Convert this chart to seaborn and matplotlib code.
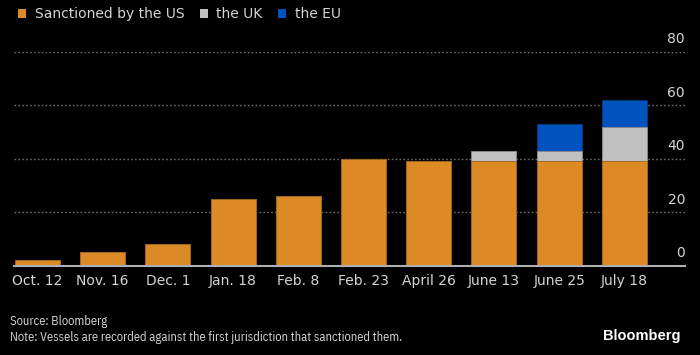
import matplotlib
matplotlib.use("Agg")
import matplotlib.pyplot as plt
import seaborn as sns
import pandas as pd
from matplotlib.patches import Patch

dates = ["Oct. 12", "Nov. 16", "Dec. 1", "Jan. 18", "Feb. 8", "Feb. 23",
         "April 26", "June 13", "June 25", "July 18"]
us = [2, 5, 8, 25, 26, 40, 39, 39, 39, 39]
uk = [0, 0, 0, 0, 0, 0, 0, 4, 4, 13]
eu = [0, 0, 0, 0, 0, 0, 0, 0, 10, 10]
yticks = [0, 20, 40, 60, 80]
series_names = ["Sanctioned by the US", "the UK", "the EU"]

C_US = "#DB8A25"
C_UK = "#C0C0C0"
C_EU = "#0053BD"
BG = "#000000"
TXT = "#D4D4D4"

df = pd.DataFrame({"date": dates, "us": us, "uk": uk, "eu": eu})
df["us_uk"] = df["us"] + df["uk"]
df["total"] = df["us_uk"] + df["eu"]

sns.set_theme(style="dark")
plt.rcParams["font.family"] = ["DejaVu Sans"]

fig = plt.figure(figsize=(7, 3.55), dpi=100, facecolor=BG)
ax = fig.add_axes([0.02, 0.2521, 0.9586, 0.6014])
ax.set_facecolor(BG)

# gridlines (behind bars)
for v in yticks[1:]:
    ax.axhline(v, color="#6E6E6E", lw=1.0, ls=(0, (1.2, 1.6)), zorder=0)

w = 0.69
sns.barplot(data=df, x="date", y="total", order=dates, color=C_EU, saturation=1,
            width=w, edgecolor="#003A85", linewidth=0.6, ax=ax, zorder=2)
sns.barplot(data=df, x="date", y="us_uk", order=dates, color=C_UK, saturation=1,
            width=w, edgecolor="#8A8A8A", linewidth=0.6, ax=ax, zorder=3)
sns.barplot(data=df, x="date", y="us", order=dates, color=C_US, saturation=1,
            width=w, edgecolor="#9A5E15", linewidth=0.6, ax=ax, zorder=4)

ax.set_xlim(-0.36, 9.93)
ax.set_ylim(0, 80)
ax.set_xlabel("")
ax.set_ylabel("")
ax.set_yticks([])
ax.grid(False)
for s in ["top", "right", "left"]:
    ax.spines[s].set_visible(False)
ax.spines["bottom"].set_color("#AFAFAF")
ax.spines["bottom"].set_linewidth(1.5)
ax.spines["bottom"].set_zorder(5)
ax.tick_params(axis="x", length=0, pad=6, colors=TXT, labelsize=10)

# y tick labels on the right, above gridlines
for v in yticks:
    ax.annotate(str(v), xy=(1.0, v), xycoords=("axes fraction", "data"),
                xytext=(0, 4), textcoords="offset points",
                ha="right", va="bottom", color=TXT, fontsize=10)

# legend
handles = [Patch(facecolor=c, edgecolor="none") for c in (C_US, C_UK, C_EU)]
fig.legend(handles, series_names, loc="upper left", bbox_to_anchor=(0.008, 1.015),
           ncol=3, frameon=False, fontsize=10, handlelength=0.6, handleheight=0.6,
           handletextpad=0.6, columnspacing=1.1, labelcolor=TXT)

# footer
foot_font = ["IBM Plex Sans Condensed", "DejaVu Sans"]
fig.text(0.014, 1 - 321 / 355, "Source: Bloomberg", color=TXT, fontsize=9,
         va="center", ha="left", family=foot_font)
fig.text(0.014, 1 - 337 / 355,
         "Note: Vessels are recorded against the first jurisdiction that sanctioned them.",
         color=TXT, fontsize=9, va="center", ha="left", family=foot_font)
fig.text(0.972, 1 - 336 / 355, "Bloomberg", color="#FFFFFF", fontsize=10.5,
         fontweight="bold", va="center", ha="right", family=["Liberation Sans", "DejaVu Sans"])

fig.savefig("out.png", dpi=100, facecolor=BG)
